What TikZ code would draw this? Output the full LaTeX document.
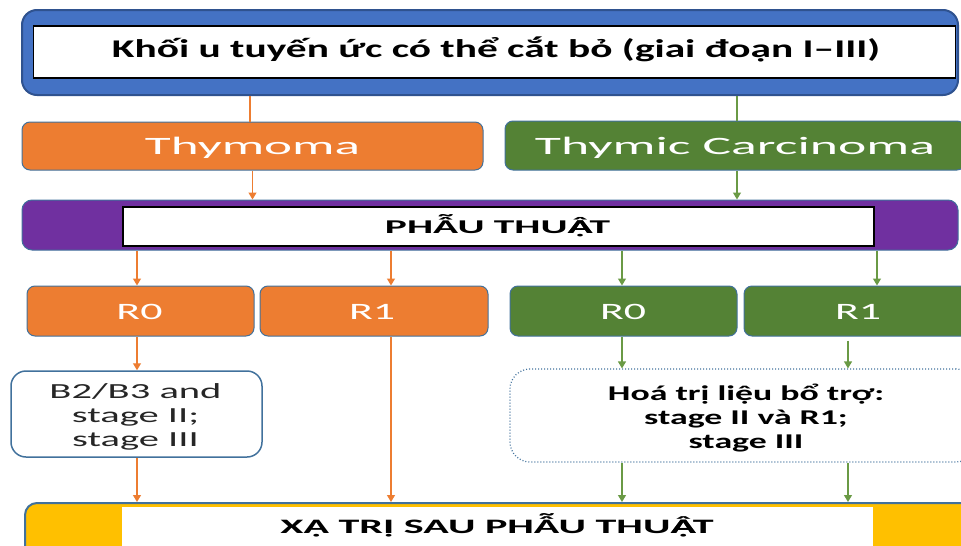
\documentclass[tikz,border=0pt]{standalone}
\usepackage{fontspec}
\setmainfont{Carlito}
\usetikzlibrary{arrows.meta}
\definecolor{blueF}{HTML}{4472C4}
\definecolor{blueD}{HTML}{2F528F}
\definecolor{edge}{HTML}{41719C}
\definecolor{orF}{HTML}{ED7D31}
\definecolor{grF}{HTML}{548235}
\definecolor{grL}{HTML}{6A9A45}
\definecolor{puF}{HTML}{7030A0}
\definecolor{yeF}{HTML}{FFC000}
\newcommand{\fitw}[2]{\resizebox{#1}{\height}{#2}}
\newcommand{\Acd}{\rlap{Ạ}Â}
\begin{document}
\begin{tikzpicture}[x=1pt,y=-1pt,
  box/.style={draw=edge,line width=1pt,rounded corners=8pt,inner sep=0pt},
  whitebox/.style={fill=white,inner sep=0pt},
  lbl/.style={anchor=base,inner sep=0pt},
  oline/.style={draw=orF,line width=1.2pt},
  gline/.style={draw=grL,line width=1.2pt},
  tip/.style={-{Triangle[width=8pt,length=7pt]}}]
\useasboundingbox (0,0) rectangle (961,546);
\clip (0,0) rectangle (961,546);
% top
\node[box,draw=blueD,line width=2pt,fill=blueF,rounded corners=15pt,minimum width=936pt,minimum height=85pt] (top) at (490,52.5) {};
\node[whitebox,draw=black,line width=1.5pt,minimum width=922pt,minimum height=52pt] (topin) at (494.5,52) {};
\node[lbl,font=\fontsize{25.5}{30}\selectfont\bfseries] (toptxt) at (496,57.5) {\fitw{768pt}{Khối u tuyến ức có thể cắt bỏ (giai đoạn I–III)}};
% second row
\node[box,fill=orF,minimum width=461pt,minimum height=48pt] (thy) at (252.5,146) {};
\node[lbl,text=white,font=\fontsize{25}{30}\selectfont] (thytxt) at (252.5,154) {\fitw{215pt}{Thymoma}};
\node[box,fill=grF,minimum width=460pt,minimum height=49pt] (car) at (735,145.5) {};
\node[lbl,text=white,font=\fontsize{25}{30}\selectfont] (cartxt) at (735,154) {\fitw{400pt}{Thymic Carcinoma}};
% surgery
\node[box,fill=puF,rounded corners=10pt,minimum width=936pt,minimum height=50pt] (pur) at (490,225) {};
\node[whitebox,draw=black,line width=1.5pt,minimum width=751pt,minimum height=39pt] (purin) at (498.5,226.5) {};
\node[lbl,font=\fontsize{19.5}{23}\selectfont\bfseries] (purtxt) at (497.5,233) {\fitw{225pt}{PHẪU THU\Acd T}};
% R boxes
\node[box,fill=orF,minimum width=227pt,minimum height=50pt] (oR0) at (140.5,311) {};
\node[box,fill=orF,minimum width=228pt,minimum height=50pt] (oR1) at (374,311) {};
\node[box,fill=grF,minimum width=227pt,minimum height=50pt] (gR0) at (623.5,311) {};
\node[box,fill=grF,minimum width=228pt,minimum height=50pt] (gR1) at (858,311) {};
\node[lbl,text=white,font=\fontsize{23.5}{28}\selectfont] (oR0t) at (139.5,319.5) {\fitw{46pt}{R0}};
\node[lbl,text=white,font=\fontsize{23.5}{28}\selectfont] (oR1t) at (372,319.5) {\fitw{46pt}{R1}};
\node[lbl,text=white,font=\fontsize{23.5}{28}\selectfont] (gR0t) at (623,319.5) {\fitw{46pt}{R0}};
\node[lbl,text=white,font=\fontsize{23.5}{28}\selectfont] (gR1t) at (858,319.5) {\fitw{46pt}{R1}};
% fourth row
\node[box,fill=white,line width=1.5pt,rounded corners=15pt,minimum width=251pt,minimum height=86pt] (b2) at (136.5,414) {};
\node[lbl,text=black!85,font=\fontsize{21.5}{24}\selectfont] (b2t) at (135.5,398.5) {\fitw{172pt}{\begin{tabular}[t]{@{}c@{}}B2/B3 and\\stage II;\\stage III\end{tabular}}};
\node[box,fill=white,dotted,line width=1.2pt,rounded corners=20pt,minimum width=466pt,minimum height=93pt] (hoa) at (743,415.5) {};
\node[lbl,font=\fontsize{21}{24}\selectfont\bfseries] (hoat) at (746,400) {\fitw{276pt}{\begin{tabular}[t]{@{}c@{}}Hoá trị liệu bổ trợ:\\stage II và R1;\\stage III\end{tabular}}};
% bottom
\node[box,line width=2pt,fill=yeF,rounded corners=12pt,minimum width=950pt,minimum height=80pt] (bot) at (500,543) {};
\node[whitebox,minimum width=751pt,minimum height=53pt] (botin) at (497.5,533.5) {};
\node[lbl,font=\fontsize{20.5}{24}\selectfont\bfseries] (bottxt) at (497,533) {\fitw{433pt}{XẠ TRỊ SAU PHẪU THU\Acd T}};
% connectors
\draw[oline] ([xshift=-2.5pt]thy.north |- top.south) -- ([xshift=-2.5pt]thy.north);
\draw[gline] ([xshift=2pt]car.north |- top.south) -- ([xshift=2pt]car.north);
\draw[oline,tip] (thy.south) -- (thy.south |- pur.north);
\draw[gline,tip] ([xshift=2pt]car.south) -- ([xshift=2pt]car.south |- pur.north);
\draw[oline,tip] ([xshift=-3.5pt]oR0.north |- pur.south) -- ([xshift=-3.5pt]oR0.north);
\draw[oline,tip] ([xshift=17pt]oR1.north |- pur.south) -- ([xshift=17pt]oR1.north);
\draw[gline,tip] ([xshift=-1.5pt]gR0.north |- pur.south) -- ([xshift=-1.5pt]gR0.north);
\draw[gline,tip] ([xshift=19pt]gR1.north |- pur.south) -- ([xshift=19pt]gR1.north);
\draw[oline,tip] ([xshift=-3.5pt]oR0.south) -- ([xshift=-3.5pt]oR0.south |- b2.north);
\draw[gline,tip] ([xshift=-1.5pt]gR0.south) -- ([xshift=-1.5pt]gR0.south |- hoa.north);
\draw[gline,tip] ([xshift=-10pt,yshift=-4pt]gR1.south) -- ([xshift=-10pt]gR1.south |- hoa.north);
\draw[oline,tip] ([xshift=-3.5pt]oR0.south |- b2.south) -- ([xshift=-3.5pt]oR0.south |- bot.north);
\draw[oline,tip] ([xshift=17pt]oR1.south) -- ([xshift=17pt]oR1.south |- bot.north);
\draw[gline,tip] ([xshift=-1.5pt]gR0.south |- hoa.south) -- ([xshift=-1.5pt]gR0.south |- bot.north);
\draw[gline,tip] ([xshift=-10pt]gR1.south |- hoa.south) -- ([xshift=-10pt]gR1.south |- bot.north);
\end{tikzpicture}
\end{document}
